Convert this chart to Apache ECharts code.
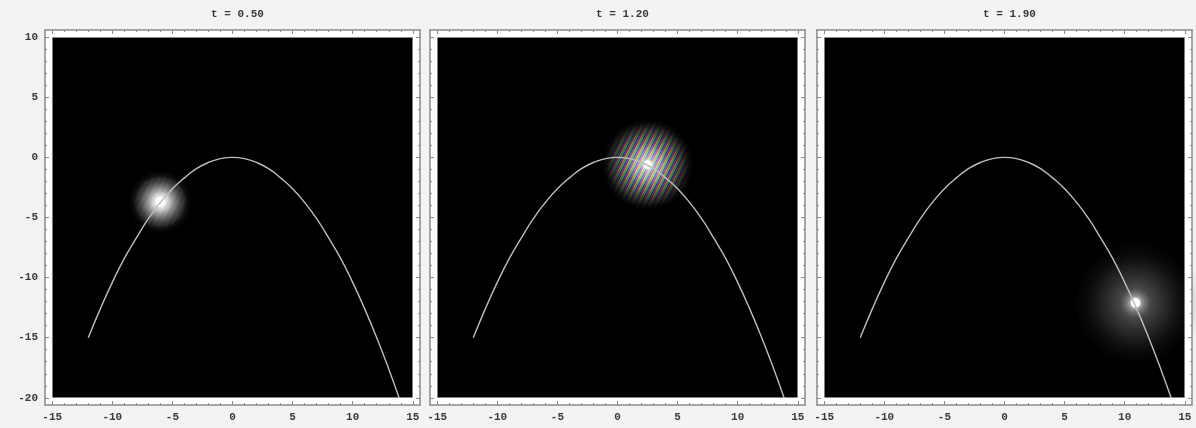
<!DOCTYPE html>
<html>
<head>
<meta charset="utf-8">
<script src="https://cdn.jsdelivr.net/npm/echarts@6/dist/echarts.min.js"></script>
<style>
html,body{margin:0;padding:0;background:#f3f3f3;}
#chart{width:1196px;height:428px;}
</style>
</head>
<body>
<div id="chart"></div>
<script>
// ---- data ----
const panelTitles = ['t = 0.50', 't = 1.20', 't = 1.90'];
const xTicks = [-15, -10, -5, 0, 5, 10, 15];
const yTicks = [-20, -15, -10, -5, 0, 5, 10];
const xMinor = [-15,-14,-13,-12,-11,-10,-9,-8,-7,-6,-5,-4,-3,-2,-1,0,1,2,3,4,5,6,7,8,9,10,11,12,13,14,15];
const yMinor = [-20,-19,-18,-17,-16,-15,-14,-13,-12,-11,-10,-9,-8,-7,-6,-5,-4,-3,-2,-1,0,1,2,3,4,5,6,7,8,9,10];
const axisX = [-15.6, 15.6];
const axisY = [-20.6, 10.6];
const densityX = [-15, 15];
const densityY = [-20, 10];
// trajectory
const curveX = [-12, -11, -10, -9, -8, -7, -6, -5, -4, -3, -2, -1, 0, 1, 2, 3, 4, 5, 6, 7, 8, 9, 10, 11, 12, 13, 13.86];
const curveY = [-15, -12.6, -10.4, -8.4, -6.7, -5.1, -3.75, -2.6, -1.7, -0.94, -0.42, -0.1, 0, -0.1, -0.42, -0.94, -1.7, -2.6, -3.75, -5.1, -6.7, -8.4, -10.4, -12.6, -15, -17.6, -20];
// wave packet per panel
const blobX = [-6.0, 2.5, 10.9];
const blobY = [-3.7, -0.6, -12.1];
const blobRadius = [2.8, 3.7, 5.6];
const dotRadius = [0.42, 0.36, 0.4];

// ---- layout ----
const gridLeft = [45, 430, 817];
const gridTop = 30, gridSize = 375;

// stripe pattern for the interference panel
const pat = document.createElement('canvas');
pat.width = 12; pat.height = 12;
(function(){
  const ctx = pat.getContext('2d');
  const img = ctx.createImageData(12, 12);
  function hsl2rgb(h, s, l){
    const c = (1 - Math.abs(2*l - 1)) * s, hp = h/60, x = c*(1 - Math.abs(hp % 2 - 1));
    let r=0,g=0,b=0;
    if (hp<1){r=c;g=x;} else if (hp<2){r=x;g=c;} else if (hp<3){g=c;b=x;}
    else if (hp<4){g=x;b=c;} else if (hp<5){r=x;b=c;} else {r=c;b=x;}
    const m = l - c/2;
    return [(r+m)*255,(g+m)*255,(b+m)*255];
  }
  for (let j=0;j<12;j++) for (let i=0;i<12;i++){
    const ph = ((2*i + j) % 12) / 12;
    const rgb = hsl2rgb(ph*360, 0.7, 0.55);
    const k = (j*12+i)*4;
    img.data[k]=rgb[0]; img.data[k+1]=rgb[1]; img.data[k+2]=rgb[2]; img.data[k+3]=255;
  }
  ctx.putImageData(img,0,0);
})();

const font = {fontFamily: 'Liberation Mono', fontWeight: 'bold', fontSize: 11, color: '#3a3a3a'};
const frameLine = {color: '#8a8a8a', width: 1.5};
const tickLine = {color: '#8a8a8a', width: 1};

const grids = [], xAxes = [], yAxes = [], series = [], titles = [];

for (let i = 0; i < 3; i++) {
  grids.push({left: gridLeft[i], top: gridTop, width: gridSize, height: gridSize, show: false});
  titles.push({text: panelTitles[i], left: gridLeft[i] + gridSize/2, top: 4, textAlign: 'center',
    textStyle: Object.assign({}, font, {fontSize: 11})});
  const xb = {gridIndex: i, type: 'value', min: axisX[0], max: axisX[1], z: 10, splitLine: {show: false}};
  const yb = {gridIndex: i, type: 'value', min: axisY[0], max: axisY[1], z: 10, splitLine: {show: false}};
  xAxes.push(Object.assign({}, xb, {position: 'bottom',
    axisLine: {show: true, onZero: false, lineStyle: frameLine},
    axisTick: {show: true, inside: true, length: 4, customValues: xTicks, lineStyle: tickLine},
    axisLabel: Object.assign({show: true, customValues: xTicks, margin: 7}, font)}));
  xAxes.push(Object.assign({}, xb, {position: 'top',
    axisLine: {show: true, onZero: false, lineStyle: frameLine},
    axisTick: {show: true, inside: true, length: 4, customValues: xTicks, lineStyle: tickLine},
    axisLabel: {show: false}}));
  xAxes.push(Object.assign({}, xb, {position: 'bottom',
    axisLine: {show: false, onZero: false},
    axisTick: {show: true, inside: true, length: 2, customValues: xMinor, lineStyle: tickLine},
    axisLabel: {show: false}}));
  xAxes.push(Object.assign({}, xb, {position: 'top',
    axisLine: {show: false, onZero: false},
    axisTick: {show: true, inside: true, length: 2, customValues: xMinor, lineStyle: tickLine},
    axisLabel: {show: false}}));
  yAxes.push(Object.assign({}, yb, {position: 'left',
    axisLine: {show: true, onZero: false, lineStyle: frameLine},
    axisTick: {show: true, inside: true, length: 4, customValues: yTicks, lineStyle: tickLine},
    axisLabel: Object.assign({show: i === 0, customValues: yTicks, margin: 7}, font)}));
  yAxes.push(Object.assign({}, yb, {position: 'right',
    axisLine: {show: true, onZero: false, lineStyle: frameLine},
    axisTick: {show: true, inside: true, length: 4, customValues: yTicks, lineStyle: tickLine},
    axisLabel: {show: false}}));
  yAxes.push(Object.assign({}, yb, {position: 'left',
    axisLine: {show: false, onZero: false},
    axisTick: {show: true, inside: true, length: 2, customValues: yMinor, lineStyle: tickLine},
    axisLabel: {show: false}}));
  yAxes.push(Object.assign({}, yb, {position: 'right',
    axisLine: {show: false, onZero: false},
    axisTick: {show: true, inside: true, length: 2, customValues: yMinor, lineStyle: tickLine},
    axisLabel: {show: false}}));

  const ax = {xAxisIndex: 4*i, yAxisIndex: 4*i};

  // black density background
  series.push(Object.assign({
    type: 'custom', z: 1, silent: true,
    data: [[densityX[0], densityY[1], densityX[1], densityY[0]]],
    renderItem: function(params, api){
      const p1 = api.coord([api.value(0), api.value(1)]);
      const p2 = api.coord([api.value(2), api.value(3)]);
      return {type: 'rect', shape: {x: p1[0], y: p1[1], width: p2[0]-p1[0], height: p2[1]-p1[1]},
        style: {fill: '#000', stroke: '#6a6a6a', lineWidth: 1}};
    }
  }, ax));

  // wave packet
  const kind = i;
  series.push(Object.assign({
    type: 'custom', z: 2, silent: true,
    data: [[blobX[i], blobY[i], blobRadius[i], dotRadius[i]]],
    renderItem: function(params, api){
      const c = api.coord([api.value(0), api.value(1)]);
      const R = api.size([api.value(2), api.value(2)])[0];
      const r = api.size([api.value(3), api.value(3)])[0];
      const children = [];
      if (kind === 0) {
        children.push({type: 'circle', shape: {cx: c[0], cy: c[1], r: R}, style: {fill: {
          type: 'radial', x: 0.5, y: 0.5, r: 0.5, colorStops: [
            {offset: 0, color: 'rgba(255,255,255,1)'},
            {offset: 0.25, color: 'rgba(230,230,230,0.9)'},
            {offset: 0.5, color: 'rgba(180,180,180,0.55)'},
            {offset: 0.75, color: 'rgba(100,100,100,0.22)'},
            {offset: 1, color: 'rgba(0,0,0,0)'}]}}});
        children.push({type: 'circle', shape: {cx: c[0], cy: c[1], r: R*0.75}, style: {fill: {image: pat, repeat: 'repeat'}, opacity: 0.1}});
      } else if (kind === 1) {
        children.push({type: 'circle', shape: {cx: c[0], cy: c[1], r: R}, style: {fill: {image: pat, repeat: 'repeat'}, opacity: 0.95}});
        children.push({type: 'circle', shape: {cx: c[0], cy: c[1], r: R + 1.5}, style: {fill: {
          type: 'radial', x: 0.5, y: 0.5, r: 0.5, colorStops: [
            {offset: 0, color: 'rgba(0,0,0,0)'},
            {offset: 0.3, color: 'rgba(0,0,0,0.05)'},
            {offset: 0.55, color: 'rgba(0,0,0,0.3)'},
            {offset: 0.75, color: 'rgba(0,0,0,0.65)'},
            {offset: 0.9, color: 'rgba(0,0,0,0.92)'},
            {offset: 1, color: 'rgba(0,0,0,1)'}]}}});
        children.push({type: 'circle', shape: {cx: c[0], cy: c[1], r: R*0.5}, style: {fill: {
          type: 'radial', x: 0.5, y: 0.5, r: 0.5, colorStops: [
            {offset: 0, color: 'rgba(255,255,255,0.6)'},
            {offset: 1, color: 'rgba(255,255,255,0)'}]}}});
      } else {
        children.push({type: 'circle', shape: {cx: c[0], cy: c[1], r: R}, style: {fill: {
          type: 'radial', x: 0.5, y: 0.5, r: 0.5, colorStops: [
            {offset: 0, color: 'rgba(150,150,150,0.75)'},
            {offset: 0.2, color: 'rgba(125,125,125,0.6)'},
            {offset: 0.5, color: 'rgba(90,90,90,0.38)'},
            {offset: 0.78, color: 'rgba(45,45,45,0.15)'},
            {offset: 1, color: 'rgba(0,0,0,0)'}]}}});
        children.push({type: 'circle', shape: {cx: c[0], cy: c[1], r: R*0.22}, style: {fill: {
          type: 'radial', x: 0.5, y: 0.5, r: 0.5, colorStops: [
            {offset: 0, color: 'rgba(255,255,255,0.45)'},
            {offset: 1, color: 'rgba(255,255,255,0)'}]}}});
      }
      children.push({type: 'circle', shape: {cx: c[0], cy: c[1], r: r}, style: {fill: '#ffffff', shadowBlur: 4, shadowColor: 'rgba(255,255,255,0.9)'}});
      return {type: 'group', children: children};
    }
  }, ax));

  // trajectory
  series.push(Object.assign({
    type: 'line', z: 3, silent: true, smooth: true, showSymbol: false, symbol: 'none',
    data: curveX.map((x, k) => [x, curveY[k]]),
    lineStyle: {color: '#bdbdbd', width: 1.4}
  }, ax));

  // white frame gap
  series.push(Object.assign({
    type: 'custom', z: 4, silent: true,
    data: [[densityX[0], densityY[1], densityX[1], densityY[0]]],
    renderItem: function(params, api){
      const cs = params.coordSys;
      const p1 = api.coord([api.value(0), api.value(1)]);
      const p2 = api.coord([api.value(2), api.value(3)]);
      const st = {fill: '#ffffff'};
      const x0 = cs.x, y0 = cs.y, x1 = cs.x + cs.width, y1 = cs.y + cs.height;
      return {type: 'group', children: [
        {type: 'rect', shape: {x: x0, y: y0, width: cs.width, height: p1[1]-y0}, style: st},
        {type: 'rect', shape: {x: x0, y: p2[1], width: cs.width, height: y1-p2[1]}, style: st},
        {type: 'rect', shape: {x: x0, y: p1[1], width: p1[0]-x0, height: p2[1]-p1[1]}, style: st},
        {type: 'rect', shape: {x: p2[0], y: p1[1], width: x1-p2[0], height: p2[1]-p1[1]}, style: st}
      ]};
    }
  }, ax));
}

const chart = echarts.init(document.getElementById('chart'), null, {renderer: 'canvas'});
chart.setOption({
  animation: false,
  backgroundColor: '#f3f3f3',
  title: titles,
  grid: grids,
  xAxis: xAxes,
  yAxis: yAxes,
  series: series
});
</script>
</body>
</html>
